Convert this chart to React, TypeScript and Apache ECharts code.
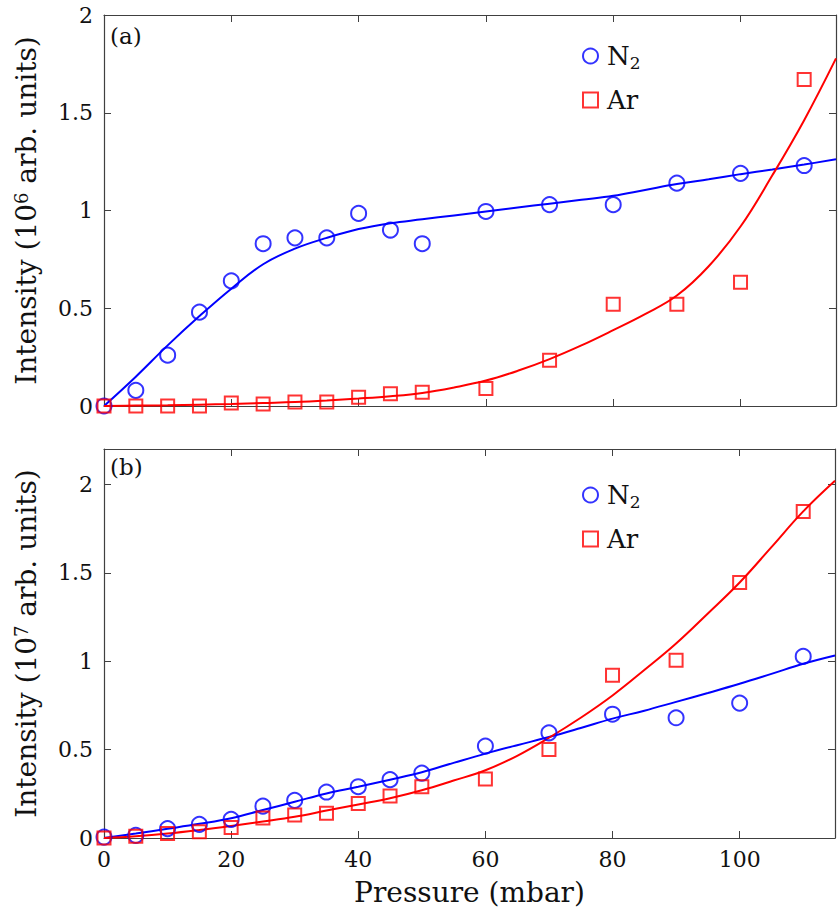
import React, { useEffect, useRef } from "react";
import * as echarts from "echarts";

// Measured data (pressure in mbar)
const pressure = [0, 5, 10, 15, 20, 25, 30, 35, 40, 45, 50, 60, 70, 80, 90, 100, 110];
// Panel (a): intensity in 10^6 arb. units
const n2A = [0, 0.08, 0.26, 0.48, 0.64, 0.83, 0.86, 0.86, 0.985, 0.9, 0.83, 0.995, 1.03, 1.03, 1.14, 1.19, 1.23];
const arA = [0, 0, 0, 0, 0.015, 0.01, 0.02, 0.02, 0.045, 0.063, 0.07, 0.09, 0.234, 0.52, 0.52, 0.633, 1.67];
// Panel (b): intensity in 10^7 arb. units
const n2B = [0.005, 0.015, 0.053, 0.077, 0.105, 0.18, 0.213, 0.26, 0.29, 0.33, 0.367, 0.52, 0.595, 0.7, 0.68, 0.763, 1.027];
const arB = [0, 0.01, 0.025, 0.035, 0.06, 0.113, 0.13, 0.14, 0.195, 0.237, 0.29, 0.333, 0.5, 0.92, 1.005, 1.445, 1.847];

// Fit curves
const fitX = [0, 5, 10, 15, 20, 25, 30, 35, 40, 45, 50, 55, 60, 65, 70, 75, 80, 85, 90, 95, 100, 105, 110, 115];
const n2FitA = [0, 0.15, 0.31, 0.46, 0.6, 0.725, 0.805, 0.86, 0.905, 0.935, 0.955, 0.975, 0.995, 1.015, 1.035, 1.055, 1.075, 1.105, 1.135, 1.16, 1.186, 1.21, 1.235, 1.262];
const arFitA = [0, 0.002, 0.004, 0.007, 0.01, 0.015, 0.02, 0.028, 0.038, 0.05, 0.067, 0.095, 0.13, 0.18, 0.24, 0.31, 0.388, 0.47, 0.565, 0.715, 0.918, 1.18, 1.462, 1.778];
const n2FitB = [0, 0.025, 0.052, 0.08, 0.112, 0.158, 0.205, 0.252, 0.29, 0.33, 0.372, 0.425, 0.477, 0.525, 0.571, 0.622, 0.675, 0.72, 0.77, 0.82, 0.872, 0.928, 0.985, 1.032];
const arFitB = [0, 0.01, 0.025, 0.045, 0.068, 0.093, 0.12, 0.155, 0.19, 0.225, 0.27, 0.325, 0.383, 0.465, 0.567, 0.68, 0.806, 0.95, 1.1, 1.27, 1.445, 1.645, 1.847, 2.02];

const FONT = "DejaVu Serif";
const BLUE = "#0000ff";
const RED = "#ff0000";
const AXIS = "#404040";
const TEXT = "#111111";

const pairs = (xs: number[], ys: number[]) => xs.map((x, i) => [x, ys[i]]);

export default function App() {
  const ref = useRef<HTMLDivElement>(null);
  useEffect(() => {
    if (!ref.current) return;
    const chart = echarts.init(ref.current, null, { renderer: "svg" });

    const xBase = (gridIndex: number, showLabel: boolean, position: "bottom" | "top") => ({
      type: "value" as const,
      gridIndex,
      position,
      min: 0,
      max: 115,
      interval: 20,
      axisLine: { show: true, onZero: false, lineStyle: { color: AXIS, width: 1.2 } },
      axisTick: { show: true, inside: true, length: 7, lineStyle: { color: AXIS, width: 1 } },
      splitLine: { show: false },
      axisLabel: {
        show: showLabel,
        margin: 10,
        fontFamily: FONT,
        fontSize: 22,
        color: TEXT,
        formatter: (v: number) => (v % 20 === 0 ? String(v) : ""),
      },
    });
    const yBase = (gridIndex: number, max: number, showLabel: boolean, position: "left" | "right") => ({
      type: "value" as const,
      gridIndex,
      position,
      min: 0,
      max,
      interval: 0.5,
      axisLine: { show: true, onZero: false, lineStyle: { color: AXIS, width: 1.2 } },
      axisTick: { show: true, inside: true, length: 7, lineStyle: { color: AXIS, width: 1 } },
      splitLine: { show: false },
      axisLabel: {
        show: showLabel,
        margin: 11,
        fontFamily: FONT,
        fontSize: 22,
        color: TEXT,
        formatter: (v: number) => (Math.abs(v * 2 - Math.round(v * 2)) < 1e-6 ? String(v) : ""),
      },
    });

    const supRich = {
      sup: { fontFamily: FONT, fontSize: 18, color: TEXT, verticalAlign: "top" as const, padding: [0, 0, 11, 0] },
    };

    const yA: any = yBase(0, 2, true, "left");
    yA.name = "Intensity (10{sup|6} arb. units)";
    yA.nameLocation = "middle";
    yA.nameGap = 63;
    yA.nameTextStyle = { fontFamily: FONT, fontSize: 28, color: TEXT, rich: supRich };
    const yB: any = yBase(1, 2.2, true, "left");
    yB.name = "Intensity (10{sup|7} arb. units)";
    yB.nameLocation = "middle";
    yB.nameGap = 63;
    yB.nameTextStyle = { fontFamily: FONT, fontSize: 28, color: TEXT, rich: supRich };

    const xB: any = xBase(1, true, "bottom");
    xB.name = "Pressure (mbar)";
    xB.nameLocation = "middle";
    xB.nameGap = 40;
    xB.nameTextStyle = { fontFamily: FONT, fontSize: 28, color: TEXT };

    const scatter = (name: string, data: number[][], idx: number, color: string, symbol: string, size: number) => ({
      type: "scatter" as const,
      name,
      xAxisIndex: idx,
      yAxisIndex: idx,
      data,
      symbol,
      symbolSize: size,
      z: 3,
      itemStyle: { color: "rgba(255,255,255,0)", borderColor: color, borderWidth: 2 },
      emphasis: { disabled: true },
    });
    const fit = (name: string, data: number[][], idx: number, color: string) => ({
      type: "line" as const,
      name,
      xAxisIndex: idx,
      yAxisIndex: idx,
      data,
      smooth: 0.4,
      showSymbol: false,
      symbol: "none",
      z: 2,
      lineStyle: { color, width: 2 },
      emphasis: { disabled: true },
    });

    const legendCommon = {
      orient: "vertical" as const,
      left: 582,
      itemWidth: 15,
      itemHeight: 15,
      itemGap: 16,
      padding: 0,
      formatter: (name: string) => (name === "N2" ? "N{sub|2}" : name),
      textStyle: {
        fontFamily: FONT,
        fontSize: 26,
        color: TEXT,
        padding: [0, 0, 0, 4],
        rich: {
          sub: { fontFamily: FONT, fontSize: 17, color: TEXT, verticalAlign: "bottom" as const, padding: [13, 0, 0, 0] },
        },
      },
      selectedMode: false,
      data: ["N2", "Ar"],
    };

    chart.setOption({
      animation: false,
      backgroundColor: "#ffffff",
      textStyle: { fontFamily: FONT },
      grid: [
        { left: 104, top: 15, width: 732, height: 391 },
        { left: 104, top: 449, width: 732, height: 389 },
      ],
      xAxis: [xBase(0, false, "bottom"), xB, xBase(0, false, "top"), xBase(1, false, "top")],
      yAxis: [yA, yB, yBase(0, 2, false, "right"), yBase(1, 2.2, false, "right")],
      legend: [
        { ...legendCommon, top: 43 },
        { ...legendCommon, top: 482 },
      ],
      graphic: [
        { type: "text", left: 110, top: 24, style: { text: "(a)", fontFamily: FONT, fontSize: 23, fill: TEXT } },
        { type: "text", left: 110, top: 455, style: { text: "(b)", fontFamily: FONT, fontSize: 23, fill: TEXT } },
      ],
      series: [
        fit("fitN2a", pairs(fitX, n2FitA), 0, BLUE),
        fit("fitAra", pairs(fitX, arFitA), 0, RED),
        fit("fitN2b", pairs(fitX, n2FitB), 1, BLUE),
        fit("fitArb", pairs(fitX, arFitB), 1, RED),
        scatter("N2", pairs(pressure, n2A), 0, BLUE, "circle", 15),
        scatter("Ar", pairs(pressure, arA), 0, RED, "rect", 13),
        scatter("N2", pairs(pressure, n2B), 1, BLUE, "circle", 15),
        scatter("Ar", pairs(pressure, arB), 1, RED, "rect", 13),
      ],
    });
    return () => chart.dispose();
  }, []);
  return <div ref={ref} style={{ position: "absolute", left: 0, top: 0, width: 838, height: 913 }} />;
}
